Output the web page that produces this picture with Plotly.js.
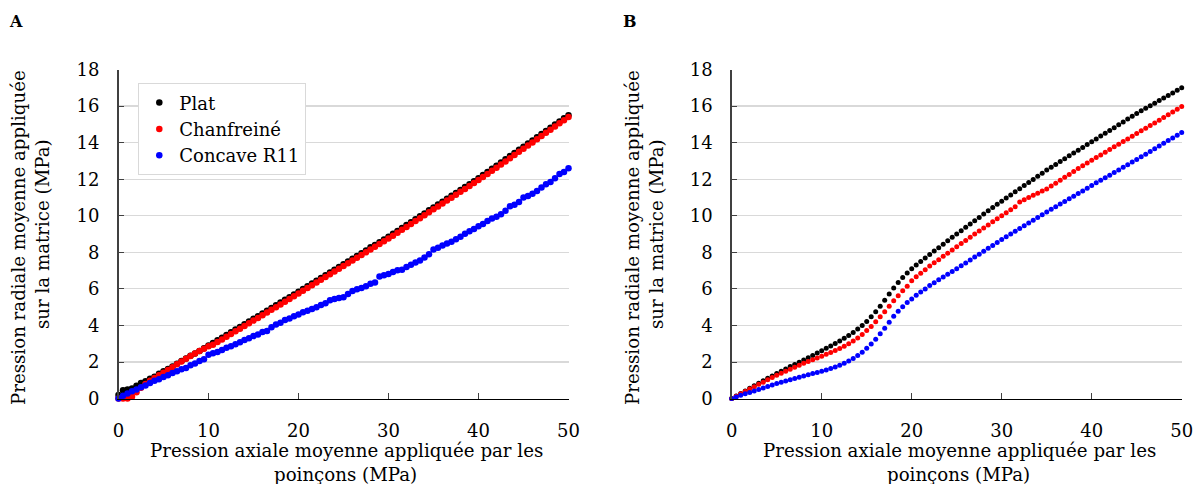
<!DOCTYPE html>
<html>
<head>
<meta charset="utf-8">
<script src="https://cdn.plot.ly/plotly-3.0.1.min.js"></script>
<style>html,body{margin:0;padding:0;background:#fff;}</style>
</head>
<body>
<div id="chart" style="width:1199px;height:484px;"></div>
<script>
// Pression axiale moyenne (MPa) — common abscissa for all series
const pressionAxiale = [0,0.5,1,1.5,2,2.5,3,3.5,4,4.5,5,5.5,6,6.5,7,7.5,8,8.5,9,9.5,
  10,10.5,11,11.5,12,12.5,13,13.5,14,14.5,15,15.5,16,16.5,17,17.5,18,18.5,19,19.5,
  20,20.5,21,21.5,22,22.5,23,23.5,24,24.5,25,25.5,26,26.5,27,27.5,28,28.5,29,29.5,
  30,30.5,31,31.5,32,32.5,33,33.5,34,34.5,35,35.5,36,36.5,37,37.5,38,38.5,39,39.5,
  40,40.5,41,41.5,42,42.5,43,43.5,44,44.5,45,45.5,46,46.5,47,47.5,48,48.5,49,49.5,50];

// Panel A — pression radiale (MPa)
const platA = [0.20,0.45,0.50,0.55,0.70,0.85,0.95,1.08,1.20,1.36,1.50,1.62,1.75,1.90,2.05,2.20,2.35,2.47,2.60,2.76,
  2.90,3.04,3.19,3.33,3.48,3.63,3.78,3.92,4.07,4.22,4.37,4.51,4.66,4.81,4.96,5.10,5.25,5.40,5.55,5.70,
  5.85,6.00,6.15,6.30,6.45,6.60,6.75,6.90,7.05,7.20,7.35,7.50,7.65,7.80,7.95,8.10,8.28,8.40,8.55,8.70,
  8.85,9.01,9.17,9.33,9.49,9.65,9.81,9.97,10.13,10.30,10.45,10.61,10.77,10.93,11.09,11.25,11.41,11.57,11.73,11.89,
  12.05,12.23,12.40,12.57,12.74,12.92,13.09,13.27,13.43,13.61,13.78,13.95,14.12,14.30,14.47,14.64,14.81,14.99,15.16,15.33,15.50];
const chanfreineA = [0.00,0.00,0.00,0.10,0.35,0.60,0.80,0.97,1.12,1.28,1.42,1.57,1.72,1.88,2.03,2.18,2.33,2.47,2.60,2.73,
  2.86,2.95,3.09,3.23,3.38,3.53,3.68,3.82,3.97,4.12,4.27,4.41,4.56,4.71,4.86,5.00,5.15,5.30,5.45,5.60,
  5.75,5.90,6.05,6.20,6.35,6.50,6.65,6.80,6.95,7.10,7.25,7.40,7.55,7.70,7.85,8.00,8.15,8.30,8.45,8.60,
  8.75,8.91,9.07,9.23,9.39,9.55,9.71,9.87,10.03,10.19,10.35,10.51,10.67,10.83,10.99,11.15,11.31,11.47,11.63,11.79,
  11.95,12.12,12.29,12.46,12.63,12.80,12.97,13.15,13.32,13.50,13.67,13.84,14.01,14.19,14.36,14.54,14.71,14.88,15.06,15.23,15.40];
const concaveA = [0.00,0.15,0.28,0.40,0.50,0.62,0.72,0.85,0.98,1.06,1.18,1.28,1.40,1.50,1.60,1.68,1.82,1.92,2.05,2.15,
  2.40,2.48,2.55,2.66,2.78,2.86,2.97,3.08,3.20,3.30,3.42,3.50,3.64,3.70,3.90,4.05,4.15,4.30,4.38,4.50,
  4.60,4.72,4.80,4.90,5.00,5.12,5.22,5.38,5.45,5.50,5.55,5.72,5.88,5.98,6.05,6.15,6.28,6.35,6.68,6.75,
  6.82,6.92,7.02,7.05,7.20,7.32,7.45,7.55,7.72,7.90,8.15,8.25,8.38,8.48,8.58,8.72,8.85,9.02,9.15,9.28,
  9.42,9.55,9.72,9.85,9.95,10.08,10.28,10.52,10.60,10.75,11.00,11.08,11.20,11.35,11.55,11.72,11.85,12.05,12.28,12.40,12.60];

// Panel B — pression radiale (MPa)
const platB = [0,0.14,0.28,0.42,0.56,0.70,0.84,0.98,1.11,1.24,1.37,1.50,1.62,1.75,1.87,1.99,2.11,2.23,2.36,2.49,
  2.62,2.75,2.88,3.01,3.15,3.30,3.45,3.62,3.80,4.00,4.22,4.47,4.75,5.05,5.38,5.72,6.05,6.35,6.62,6.87,
  7.10,7.31,7.50,7.69,7.88,8.07,8.25,8.44,8.63,8.82,9.00,9.18,9.37,9.55,9.73,9.91,10.09,10.27,10.45,10.63,
  10.80,10.97,11.14,11.31,11.48,11.65,11.82,11.99,12.16,12.33,12.50,12.66,12.81,12.97,13.12,13.28,13.43,13.59,13.74,13.90,
  14.05,14.20,14.36,14.51,14.67,14.82,14.98,15.13,15.29,15.44,15.60,15.74,15.88,16.02,16.16,16.30,16.44,16.58,16.72,16.86,17.00];
const chanfreineB = [0,0.13,0.26,0.39,0.52,0.65,0.78,0.90,1.03,1.15,1.28,1.39,1.50,1.61,1.72,1.82,1.93,2.03,2.13,2.22,
  2.32,2.42,2.52,2.63,2.74,2.86,3.00,3.15,3.32,3.51,3.72,3.95,4.20,4.47,4.75,5.05,5.35,5.63,5.90,6.15,
  6.45,6.66,6.85,7.05,7.25,7.43,7.60,7.78,7.95,8.13,8.30,8.48,8.65,8.83,9.00,9.17,9.33,9.50,9.67,9.84,
  10.00,10.17,10.33,10.50,10.75,10.88,11.00,11.12,11.23,11.35,11.47,11.63,11.78,11.94,12.10,12.26,12.42,12.58,12.73,12.89,
  13.04,13.19,13.33,13.48,13.62,13.77,13.91,14.06,14.20,14.35,14.50,14.65,14.79,14.94,15.08,15.23,15.38,15.52,15.67,15.82,15.97];
const concaveB = [0,0.09,0.18,0.26,0.34,0.42,0.50,0.58,0.66,0.74,0.82,0.89,0.96,1.03,1.10,1.17,1.24,1.30,1.37,1.43,
  1.50,1.57,1.65,1.73,1.83,1.94,2.06,2.20,2.36,2.54,2.75,2.98,3.25,3.55,3.85,4.18,4.50,4.78,5.02,5.25,
  5.45,5.65,5.83,6.00,6.18,6.34,6.50,6.65,6.80,6.95,7.10,7.26,7.42,7.58,7.74,7.90,8.06,8.22,8.38,8.54,
  8.70,8.85,9.00,9.15,9.30,9.45,9.60,9.75,9.90,10.05,10.20,10.35,10.49,10.64,10.78,10.93,11.07,11.22,11.36,11.51,
  11.65,11.80,11.94,12.08,12.22,12.36,12.50,12.65,12.79,12.94,13.08,13.23,13.37,13.52,13.67,13.81,13.96,14.11,14.26,14.40,14.55];

const seriesNames = ['Plat', 'Chanfreiné', 'Concave R11'];
const seriesColors = ['#000000', '#ff0000', '#0000ff'];
const tickValsX = [0, 10, 20, 30, 40, 50];
const tickValsY = [0, 2, 4, 6, 8, 10, 12, 14, 16, 18];

const FONT = 'DejaVu Serif';
const dataA = [platA, chanfreineA, concaveA];
const dataB = [platB, chanfreineB, concaveB];

const traces = [];
dataA.forEach((ys, i) => traces.push({
  type: 'scatter', mode: 'markers', x: pressionAxiale, y: ys, name: seriesNames[i],
  xaxis: 'x', yaxis: 'y', cliponaxis: false,
  marker: {color: seriesColors[i], size: 6.5, line: {width: 0}}, showlegend: true
}));
dataB.forEach((ys, i) => traces.push({
  type: 'scatter', mode: 'markers', x: pressionAxiale, y: ys, name: seriesNames[i],
  xaxis: 'x2', yaxis: 'y2', cliponaxis: false,
  marker: {color: seriesColors[i], size: 5, line: {width: 0}}, showlegend: false
}));

const W = 1199, H = 484;
const px = v => v / W, py = v => (H - v) / H;

function xax(dom, anchor) {
  return {
    domain: dom, anchor: anchor, range: [0, 50], tickvals: tickValsX,
    ticks: 'inside', ticklen: 6, tickwidth: 1, tickcolor: '#404040',
    showline: true, linecolor: '#000', linewidth: 1.5, mirror: false,
    showgrid: false, zeroline: false, ticklabelstandoff: 15,
    tickfont: {family: FONT, size: 18, color: '#000'}
  };
}
function yax(anchor) {
  return {
    domain: [py(398.6), py(69.5)], anchor: anchor, range: [0, 18], tickvals: tickValsY,
    ticks: 'inside', ticklen: 5, tickwidth: 1, tickcolor: '#404040',
    showline: true, linecolor: '#404040', linewidth: 1.5,
    showgrid: true, gridcolor: '#d9d9d9', gridwidth: 1.2, zeroline: false,
    ticklabelstandoff: 14,
    tickfont: {family: FONT, size: 18, color: '#000'}
  };
}

const ann = (text, x, y, opts) => Object.assign({
  text: text, xref: 'paper', yref: 'paper', x: px(x), y: py(y),
  xanchor: 'center', yanchor: 'middle', showarrow: false,
  font: {family: FONT, size: 18.2, color: '#000'}
}, opts || {});

const layout = {
  width: W, height: H, margin: {l: 0, r: 0, t: 0, b: 0},
  paper_bgcolor: '#fff', plot_bgcolor: '#fff',
  font: {family: FONT, size: 18, color: '#000'},
  xaxis: xax([px(118.5), px(568.5)], 'y'),
  yaxis: yax('x'),
  xaxis2: xax([px(731.7), px(1181.7)], 'y2'),
  yaxis2: yax('x2'),
  showlegend: true,
  legend: {
    x: px(138.3), y: py(83.3), xanchor: 'left', yanchor: 'top',
    bgcolor: '#fff', bordercolor: '#d9d9d9', borderwidth: 1,
    font: {family: FONT, size: 18, color: '#000'}, itemwidth: 30, tracegroupgap: 0
  },
  annotations: [
    ann('<b>A</b>', 16, 22, {font: {family: FONT, size: 16, color: '#000'}}),
    ann('<b>B</b>', 630, 22, {font: {family: FONT, size: 16, color: '#000'}}),
    ann('Pression radiale moyenne appliquée', 18, 238, {textangle: -90}),
    ann('sur la matrice (MPa)', 42, 234, {textangle: -90}),
    ann('Pression radiale moyenne appliquée', 632, 238, {textangle: -90}),
    ann('sur la matrice (MPa)', 656, 234, {textangle: -90}),
    ann('Pression axiale moyenne appliquée par les', 346, 450),
    ann('poinçons (MPa)', 345, 474),
    ann('Pression axiale moyenne appliquée par les', 959, 450),
    ann('poinçons (MPa)', 958, 474)
  ]
};

Plotly.newPlot('chart', traces, layout, {displayModeBar: false, staticPlot: true});
</script>
</body>
</html>
